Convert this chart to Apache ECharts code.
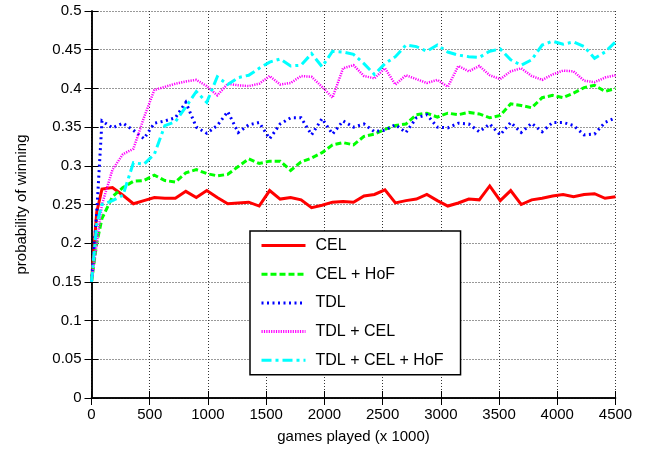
<!DOCTYPE html>
<html>
<head>
<meta charset="utf-8">
<script src="https://cdn.jsdelivr.net/npm/echarts@6/dist/echarts.min.js"></script>
<style>
  html, body { margin: 0; padding: 0; background: #fff; }
  #chart { width: 650px; height: 453px; }
</style>
</head>
<body>
<div id="chart"></div>
<script>
// games played (x axis), shared by every series
const games = [0, 45, 90, 180, 270, 360, 450, 540, 630, 720, 810, 900, 990, 1080, 1170,
  1260, 1350, 1440, 1530, 1620, 1710, 1800, 1890, 1980, 2070, 2160, 2250, 2340, 2430,
  2520, 2610, 2700, 2790, 2880, 2970, 3060, 3150, 3240, 3330, 3420, 3510, 3600, 3690,
  3780, 3870, 3960, 4050, 4140, 4230, 4320, 4410, 4500]

const cel = [0.15, 0.24, 0.270, 0.272, 0.262, 0.251, 0.255, 0.259, 0.258, 0.258, 0.267, 0.259,
  0.268, 0.259, 0.251, 0.252, 0.253, 0.248, 0.268, 0.257, 0.259, 0.256, 0.246, 0.249,
  0.253, 0.254, 0.253, 0.261, 0.263, 0.269, 0.252, 0.255, 0.257, 0.263, 0.255, 0.248,
  0.252, 0.257, 0.256, 0.274, 0.255, 0.268, 0.250, 0.256, 0.258, 0.261, 0.263, 0.260,
  0.263, 0.264, 0.258, 0.260]

const celHof = [0.15, 0.20, 0.232, 0.260, 0.272, 0.280, 0.281, 0.288, 0.281, 0.279, 0.291, 0.295,
  0.290, 0.287, 0.289, 0.299, 0.309, 0.303, 0.306, 0.306, 0.294, 0.305, 0.310, 0.317,
  0.327, 0.330, 0.327, 0.338, 0.341, 0.347, 0.352, 0.354, 0.366, 0.368, 0.363, 0.368,
  0.366, 0.369, 0.367, 0.362, 0.365, 0.380, 0.378, 0.375, 0.388, 0.391, 0.388, 0.394,
  0.401, 0.404, 0.396, 0.400]

const tdl = [0.15, 0.24, 0.358, 0.349, 0.355, 0.346, 0.335, 0.355, 0.358, 0.362, 0.382, 0.350,
  0.342, 0.352, 0.370, 0.343, 0.353, 0.356, 0.335, 0.354, 0.362, 0.362, 0.340, 0.361,
  0.341, 0.358, 0.350, 0.354, 0.344, 0.346, 0.353, 0.343, 0.362, 0.366, 0.350, 0.349,
  0.355, 0.354, 0.344, 0.354, 0.340, 0.356, 0.343, 0.355, 0.344, 0.356, 0.356, 0.352,
  0.340, 0.341, 0.356, 0.362]

const tdlCel = [0.15, 0.20, 0.25, 0.295, 0.315, 0.322, 0.362, 0.398, 0.402, 0.406, 0.409, 0.411,
  0.403, 0.391, 0.406, 0.404, 0.403, 0.406, 0.416, 0.405, 0.407, 0.416, 0.415, 0.402,
  0.388, 0.426, 0.430, 0.416, 0.413, 0.426, 0.405, 0.417, 0.412, 0.407, 0.411, 0.402,
  0.429, 0.422, 0.429, 0.417, 0.412, 0.422, 0.426, 0.416, 0.411, 0.418, 0.423, 0.422,
  0.410, 0.408, 0.414, 0.417]

const tdlCelHof = [0.15, 0.225, 0.25, 0.255, 0.262, 0.304, 0.302, 0.315, 0.352, 0.357, 0.376, 0.396,
  0.382, 0.415, 0.405, 0.414, 0.417, 0.426, 0.434, 0.438, 0.429, 0.430, 0.445, 0.428,
  0.448, 0.447, 0.444, 0.432, 0.418, 0.432, 0.441, 0.456, 0.454, 0.448, 0.456, 0.447,
  0.443, 0.441, 0.440, 0.448, 0.451, 0.437, 0.430, 0.437, 0.456, 0.461, 0.457, 0.460,
  0.454, 0.439, 0.447, 0.460]

const font = 'Liberation Sans, Arial, Helvetica, sans-serif'

const pairs = (ys) => games.map((g, i) => [g, ys[i]])

const mkLine = (name, ys, color, width, dash) => ({
  name: name,
  type: 'line',
  data: pairs(ys),
  symbol: 'none',
  xAxisIndex: 0,
  yAxisIndex: 0,
  lineStyle: {color: color, width: width, type: dash, cap: 'butt', join: 'miter'},
  itemStyle: {color: color},
  emphasis: {disabled: true},
  animation: false
})

const frameAxis = {
  axisLine: {show: true, lineStyle: {color: '#000', width: 1.5}},
  axisTick: {show: true, inside: true, length: 7, lineStyle: {color: '#000', width: 1}}
}

const chart = echarts.init(document.getElementById('chart'))

chart.setOption({
  animation: false,
  backgroundColor: '#fff',
  grid: {left: 91.5, right: 34.5, top: 11, bottom: 55, containLabel: false},
  legend: {
    orient: 'vertical',
    left: 250,
    top: 231,
    backgroundColor: '#fff',
    borderColor: '#000',
    borderWidth: 1.5,
    padding: [6.5, 17, 6.5, 10],
    itemWidth: 44,
    itemHeight: 14,
    itemGap: 12.7,
    selectedMode: false,
    itemStyle: {opacity: 0},
    lineStyle: {width: 3},
    textStyle: {fontFamily: font, fontSize: 16, color: '#000', padding: [0, 0, 0, 5]},
    data: ['CEL', 'CEL + HoF', 'TDL', 'TDL + CEL', 'TDL + CEL + HoF']
  },
  xAxis: [
    {
      type: 'value', min: 0, max: 4500, interval: 500,
      ...frameAxis,
      name: 'games played (x 1000)',
      nameLocation: 'middle',
      nameGap: 31,
      nameTextStyle: {fontFamily: font, fontSize: 15, color: '#000', verticalAlign: 'top'},
      axisLabel: {fontFamily: font, fontSize: 15, color: '#000', margin: 9, formatter: v => String(v)},
      splitLine: {show: true, lineStyle: {color: '#333', width: 1, type: [1, 2]}}
    },
    {
      type: 'value', min: 0, max: 4500, interval: 500, position: 'top',
      ...frameAxis,
      axisLabel: {show: false},
      splitLine: {show: false}
    }
  ],
  yAxis: [
    {
      type: 'value', min: 0, max: 0.5, interval: 0.05,
      ...frameAxis,
      name: 'probability of winning',
      nameLocation: 'middle',
      nameGap: 62,
      nameTextStyle: {fontFamily: font, fontSize: 15, color: '#000'},
      axisLabel: {fontFamily: font, fontSize: 15, color: '#000', margin: 10},
      splitLine: {show: true, lineStyle: {color: '#333', width: 1, type: [1, 2]}}
    },
    {
      type: 'value', min: 0, max: 0.5, interval: 0.05, position: 'right',
      ...frameAxis,
      axisLabel: {show: false},
      splitLine: {show: false}
    }
  ],
  series: [
    mkLine('CEL', cel, '#ff0000', 3, 'solid'),
    mkLine('CEL + HoF', celHof, '#00ff00', 3, [6, 3]),
    mkLine('TDL', tdl, '#0000ff', 3, [2, 3.5]),
    mkLine('TDL + CEL', tdlCel, '#ff00ff', 2.5, [1.2, 1.2]),
    mkLine('TDL + CEL + HoF', tdlCelHof, '#00ffff', 3, [10, 4, 3, 4])
  ]
})
</script>
</body>
</html>
